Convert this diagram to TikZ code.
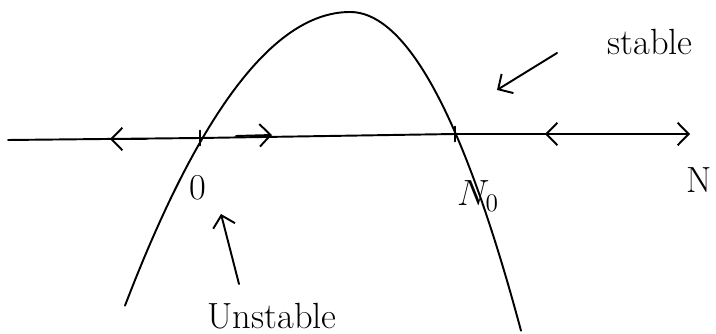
\documentclass[tikz,border=0pt]{standalone}
\usetikzlibrary{arrows.meta}
\begin{document}
\begin{tikzpicture}[x=0.02cm,y=-0.02cm,
sketch/.style={line width=1.1pt,line cap=round,line join=round},
flow/.style={sketch,-{Straight Barb[length=2.2mm,width=4.5mm]}},
hand/.style={font=\huge,inner sep=1pt}]
\useasboundingbox (0,0) rectangle (716,334);
% axis and rest points
\coordinate (left) at (8,140);
\coordinate (zero) at (200,138);
\coordinate (cap) at (455,134);
\coordinate (right) at (690,134);
\draw[flow] (left) -- (zero) -- (cap) -- (right);
\draw[sketch] ([yshift=0.15cm]zero) -- ([yshift=-0.15cm]zero);
\draw[sketch] ([yshift=0.15cm]cap) -- ([yshift=-0.15cm]cap);
% growth curve
\draw[sketch] plot[domain=125:350,samples=60] (\x,{12+0.58*((\x-350)/10)^2})
  -- plot[domain=350:521,samples=50] (\x,{12+1.09*((\x-350)/10)^2});
% flow on the line
\coordinate (a1) at (146,139); \coordinate (a2) at (110,139);
\coordinate (b1) at (236,136); \coordinate (b2) at (272,135);
\coordinate (c1) at (582,134); \coordinate (c2) at (545,134);
\draw[flow] (a1) -- (a2);
\draw[flow] (b1) -- (b2);
\draw[flow] (c1) -- (c2);
% labels
\node[hand] (axis) at (699,180) {N};
\node[hand] (origin) at (198,188) {0};
\node[hand] (capacity) at (478,196) {$N_0$};
\node[hand] (stab) at (650,42) {stable};
\node[hand] (unstab) at (272,316) {Unstable};
\coordinate (s1) at (557,53); \coordinate (s2) at (497,90);
\coordinate (u1) at (239,284); \coordinate (u2) at (221,214);
\draw[flow] (s1) -- (s2);
\draw[flow] (u1) -- (u2);
\end{tikzpicture}
\end{document}
